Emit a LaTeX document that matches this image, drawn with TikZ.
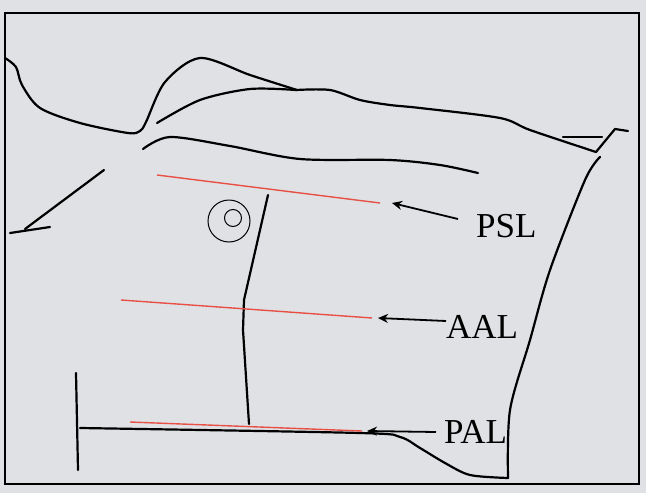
\documentclass[tikz,border=0pt]{standalone}
\usepackage{fontspec}
\setmainfont{Liberation Serif}
\usetikzlibrary{arrows.meta}
\definecolor{panel}{RGB}{223,225,228}
\definecolor{redline}{RGB}{232,80,70}
\begin{document}
\begin{tikzpicture}[x=1pt,y=-1pt]
  \tikzset{
    sketch/.style={black, line width=2.2pt, line cap=round, line join=round},
    mark line/.style={redline, line width=1.4pt},
    pointer/.style={black, line width=1.8pt, -{Stealth[length=10pt,width=9pt]}},
    tag/.style={font=\fontsize{35}{35}\selectfont, inner sep=0pt}
  }
  \useasboundingbox (0,0) rectangle (646,493);
  \fill [panel] (0,0) rectangle (646,493);
  \draw [black, line width=1.6pt] (5,13) rectangle (639,484);
  % outline of the sketch
  \draw [sketch] plot [smooth, tension=0.5] coordinates {(5,58) (16,67) (22,85) (40,108) (80,123) (128,133) (140,131) (146,122) (165,82) (200,58) (250,75) (297,90)};
  \draw [sketch] plot [smooth, tension=0.5] coordinates {(157,123) (200,100) (250,89) (296,90)};
  \draw [sketch] plot [smooth, tension=0.5] coordinates {(296,90) (330,90) (360,100) (390,105) (420,108) (500,118) (530,130) (596,152)};
  \draw [sketch] (563,137) -- (602,137);
  \draw [sketch] (596,152) -- (615,129) -- (628,131);
  \draw [sketch] plot [smooth, tension=0.5] coordinates {(600,157) (585,180) (550,270) (530,340) (510,410) (508,478)};
  \draw [sketch] plot [smooth, tension=0.5] coordinates {(508,478) (470,475) (445,463) (420,448) (400,437) (360,433) (80,428)};
  \draw [sketch] plot [smooth, tension=0.5] coordinates {(143,149) (170,137) (230,146) (300,159) (390,160) (440,165) (478,173)};
  \draw [sketch] (104,170) -- (25,229);
  \draw [sketch] (10,233) -- (50,227);
  \draw [sketch] (76,373) -- (78,470);
  \draw [sketch] (268,195) -- (244,300) -- (243,330) -- (249,424);
  \draw [black, line width=1pt] (229,221) circle (21) (233,218) circle (8.5);
  % marked lines
  \draw [mark line] (157,175) -- (380,203);
  \draw [mark line] (121,300) -- (372,318);
  \draw [mark line] (130,422) -- (362,431);
  % labels
  \node [tag, anchor=west] (psl) at (476,226) {PSL};
  \node [tag, anchor=west] (aal) at (446,327) {AAL};
  \node [tag, anchor=west] (pal) at (444,432) {PAL};
  \coordinate (pslend) at (392,203);
  \coordinate (aalend) at (378,318);
  \coordinate (palend) at (367,431);
  \draw [pointer] (458,219) -- (pslend);
  \draw [pointer] (446,321) -- (aalend);
  \draw [pointer] (436,432) -- (palend);
\end{tikzpicture}
\end{document}
